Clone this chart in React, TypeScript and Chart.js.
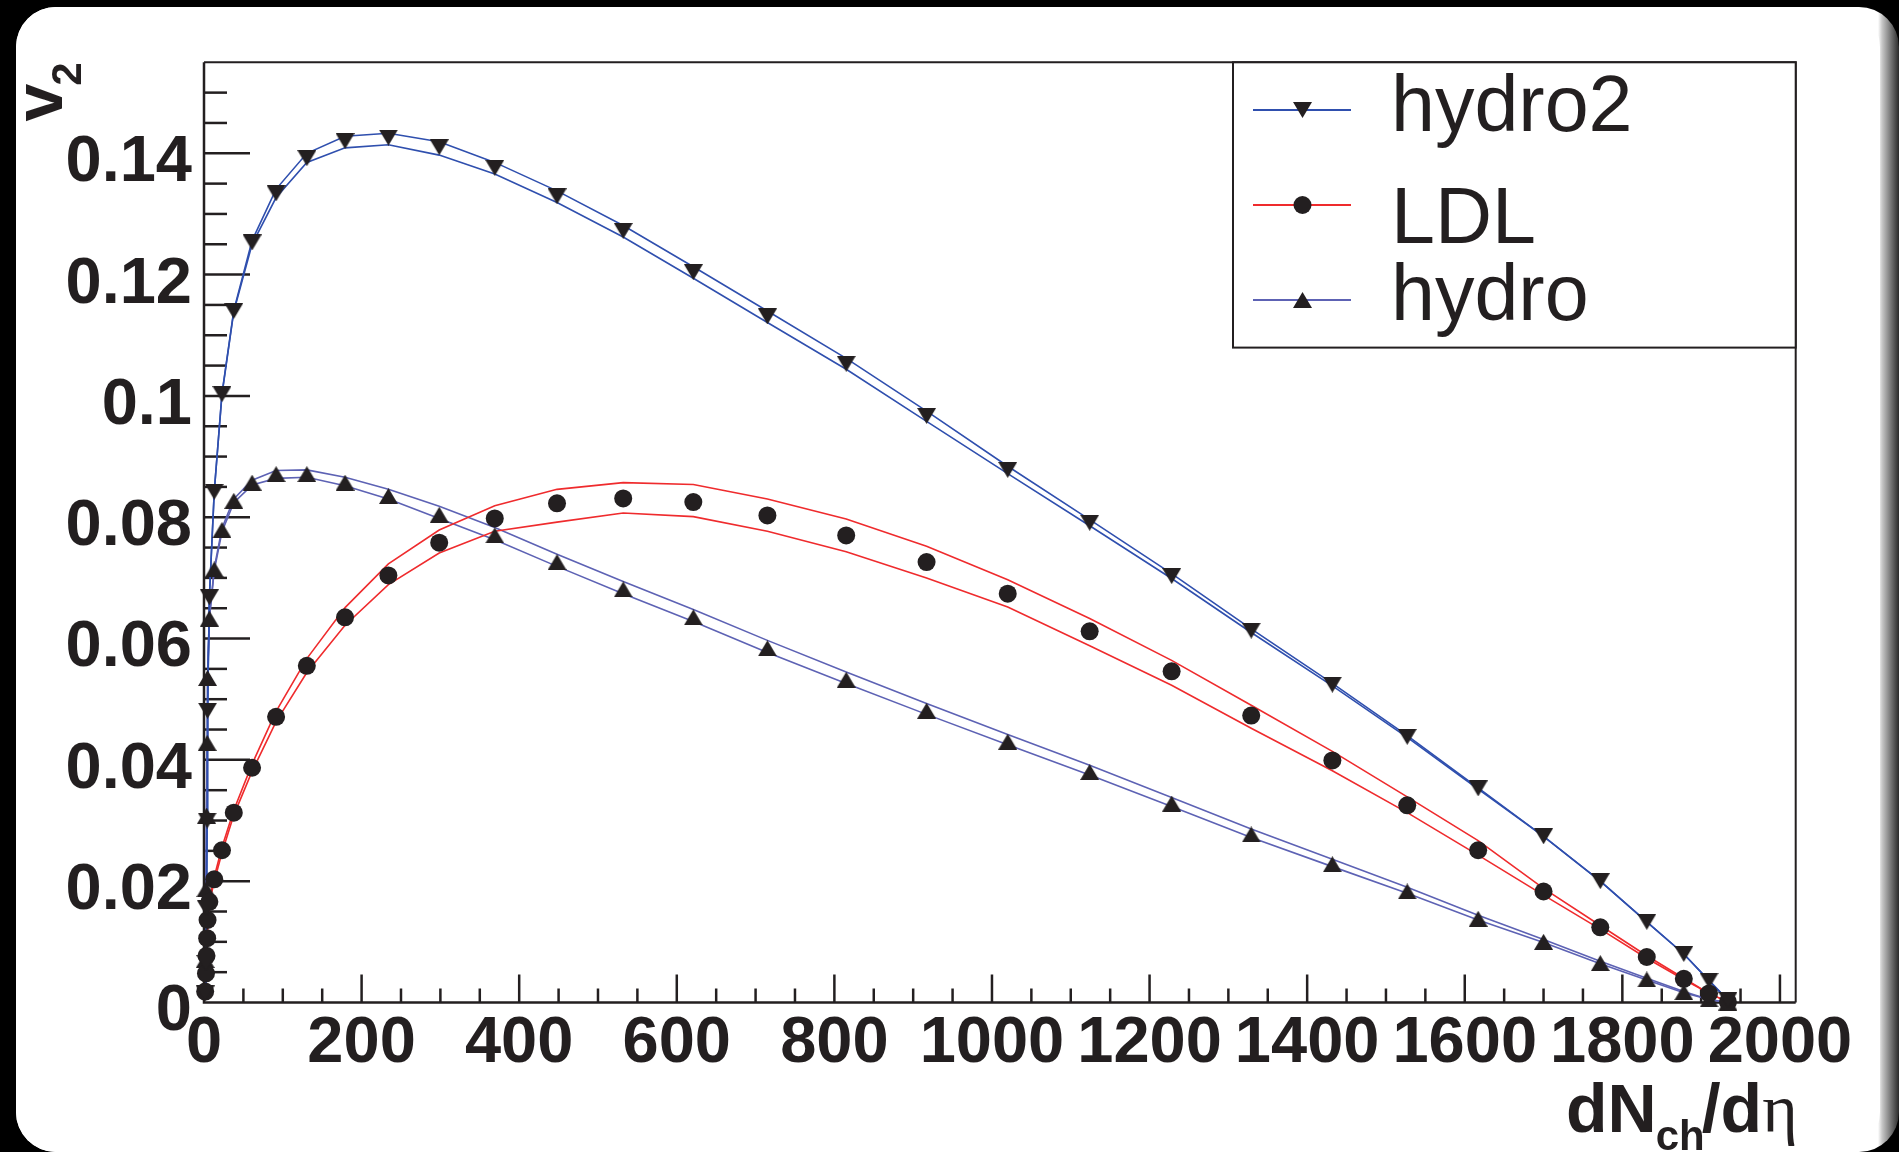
import React, { useEffect, useRef } from 'react';
import { Chart, registerables } from 'chart.js';

Chart.register(...registerables);

// dN_ch/deta grid shared by the three calculations
const dNdEta = [1.5, 2.5, 3.2, 4, 4.5, 6.8, 13, 22.8, 37.8, 61, 91.5, 130.5, 179, 234, 298.5, 369, 448, 532, 621, 715, 815, 917, 1020, 1124, 1228, 1329, 1432, 1527, 1617, 1700, 1772, 1831, 1878, 1910, 1934];

const hydro2Points = [0.0015, 0.0065, 0.0155, 0.0300, 0.0481, 0.0668, 0.0842, 0.1003, 0.1140, 0.1253, 0.1334, 0.1392, 0.1420, 0.1426, 0.1410, 0.1376, 0.1329, 0.1272, 0.1204, 0.1131, 0.1053, 0.0967, 0.0878, 0.0791, 0.0703, 0.0613, 0.0524, 0.0438, 0.0353, 0.0274, 0.0200, 0.0133, 0.0080, 0.0036, 0.0004];
const hydro2Upper = [0.0015, 0.0065, 0.0155, 0.0300, 0.0481, 0.0668, 0.0842, 0.1004, 0.1141, 0.1256, 0.1341, 0.1400, 0.1428, 0.1433, 0.1419, 0.1385, 0.1338, 0.1281, 0.1213, 0.1140, 0.1062, 0.0975, 0.0884, 0.0796, 0.0707, 0.0616, 0.0526, 0.0440, 0.0354, 0.0274, 0.0200, 0.0133, 0.0080, 0.0036, 0.0004];
const hydro2Lower = [0.0015, 0.0065, 0.0155, 0.0300, 0.0481, 0.0668, 0.0842, 0.1002, 0.1139, 0.1250, 0.1327, 0.1385, 0.1409, 0.1414, 0.1397, 0.1366, 0.1319, 0.1262, 0.1194, 0.1121, 0.1044, 0.0958, 0.0872, 0.0786, 0.0699, 0.0610, 0.0522, 0.0437, 0.0352, 0.0274, 0.0200, 0.0133, 0.0080, 0.0036, 0.0004];

const ldlPoints = [0.0018, 0.0048, 0.0077, 0.0106, 0.0136, 0.0166, 0.0203, 0.0251, 0.0313, 0.0387, 0.0471, 0.0555, 0.0635, 0.0704, 0.0758, 0.0798, 0.0823, 0.0831, 0.0825, 0.0803, 0.0770, 0.0726, 0.0674, 0.0612, 0.0546, 0.0473, 0.0399, 0.0325, 0.0251, 0.0183, 0.0124, 0.0075, 0.0039, 0.0015, 0.0001];
const ldlUpper = [0.0019, 0.0049, 0.0079, 0.0108, 0.0138, 0.0168, 0.0207, 0.0256, 0.0317, 0.0393, 0.0480, 0.0567, 0.0651, 0.0723, 0.0779, 0.0819, 0.0846, 0.0857, 0.0854, 0.0830, 0.0797, 0.0752, 0.0697, 0.0633, 0.0564, 0.0490, 0.0414, 0.0339, 0.0267, 0.0188, 0.0127, 0.0077, 0.0040, 0.0015, 0.0001];
const ldlLower = [0.0017, 0.0047, 0.0075, 0.0104, 0.0134, 0.0164, 0.0200, 0.0247, 0.0309, 0.0381, 0.0463, 0.0544, 0.0622, 0.0689, 0.0741, 0.0777, 0.0792, 0.0807, 0.0801, 0.0777, 0.0743, 0.0700, 0.0652, 0.0588, 0.0523, 0.0452, 0.0382, 0.0313, 0.0243, 0.0177, 0.0121, 0.0073, 0.0038, 0.0015, 0.0001];

const hydroPoints = [0.0070, 0.0187, 0.0308, 0.0428, 0.0535, 0.0633, 0.0714, 0.0779, 0.0827, 0.0857, 0.0871, 0.0871, 0.0857, 0.0835, 0.0804, 0.0770, 0.0726, 0.0681, 0.0635, 0.0584, 0.0532, 0.0481, 0.0430, 0.0380, 0.0328, 0.0277, 0.0228, 0.0183, 0.0138, 0.0100, 0.0065, 0.0038, 0.0017, 0.0005, 0.0000];
const hydroUpper = [0.0070, 0.0187, 0.0308, 0.0428, 0.0535, 0.0633, 0.0716, 0.0782, 0.0830, 0.0861, 0.0877, 0.0878, 0.0866, 0.0846, 0.0818, 0.0783, 0.0739, 0.0694, 0.0648, 0.0597, 0.0545, 0.0493, 0.0442, 0.0391, 0.0338, 0.0286, 0.0236, 0.0190, 0.0144, 0.0104, 0.0068, 0.0040, 0.0018, 0.0005, 0.0000];
const hydroLower = [0.0070, 0.0187, 0.0308, 0.0428, 0.0535, 0.0633, 0.0712, 0.0776, 0.0824, 0.0853, 0.0864, 0.0866, 0.0852, 0.0830, 0.0798, 0.0763, 0.0719, 0.0674, 0.0628, 0.0577, 0.0526, 0.0475, 0.0425, 0.0375, 0.0323, 0.0272, 0.0224, 0.0180, 0.0136, 0.0099, 0.0064, 0.0037, 0.0016, 0.0005, 0.0000];

const seriesNames = ['hydro2', 'LDL', 'hydro'];
const seriesColors = ['#2f4fae', '#ef2b2d', '#5d62b4'];

// axis ranges and tick labels
const xMin = 0;
const xMax = 2020;
const xTickValues = [0, 200, 400, 600, 800, 1000, 1200, 1400, 1600, 1800, 2000];
const xMinorStep = 50;
const yMin = 0;
const yMax = 0.155;
const yTickValues = [0, 0.02, 0.04, 0.06, 0.08, 0.1, 0.12, 0.14];
const yTickLabels = ['0', '0.02', '0.04', '0.06', '0.08', '0.1', '0.12', '0.14'];
const yMinorStep = 0.005;

const INK = '#231f20';
const SANS = "'Liberation Sans', Arial, Helvetica, sans-serif";

function pts(values: number[]) {
  return dNdEta.map((x, i) => ({ x, y: values[i] }));
}

function triCanvas(down: boolean, w = 19, h = 16) {
  const c = document.createElement('canvas');
  c.width = w;
  c.height = h;
  const g = c.getContext('2d')!;
  g.fillStyle = INK;
  g.beginPath();
  if (down) {
    g.moveTo(0, 0);
    g.lineTo(w, 0);
    g.lineTo(w / 2, h);
  } else {
    g.moveTo(w / 2, 0);
    g.lineTo(w, h);
    g.lineTo(0, h);
  }
  g.closePath();
  g.fill();
  return c;
}

export default function App() {
  const ref = useRef<HTMLCanvasElement | null>(null);

  useEffect(() => {
    document.body.style.margin = '0';
    document.body.style.background = '#000';
    const canvas = ref.current;
    if (!canvas) return;

    const triDown = triCanvas(true);
    const triUp = triCanvas(false);

    const framePlugin = {
      id: 'rootFrame',
      beforeDatasetsDraw(chart: any) {
        const { ctx, chartArea } = chart;
        const xs = chart.scales.x;
        const ys = chart.scales.y;
        const { left, right, top, bottom } = chartArea;
        ctx.save();
        ctx.strokeStyle = INK;
        ctx.lineCap = 'butt';
        ctx.lineWidth = 2.5;
        for (let k = 1; ; k++) {
          const v = yMin + k * yMinorStep;
          if (v > yMax - 1e-9) break;
          const isMajor = yTickValues.some((t) => Math.abs(t - v) < 1e-9);
          const py = ys.getPixelForValue(v);
          ctx.beginPath();
          ctx.moveTo(left, py);
          ctx.lineTo(left + (isMajor ? 46 : 23), py);
          ctx.stroke();
        }
        for (let k = 1; ; k++) {
          const v = xMin + k * xMinorStep;
          if (v > xMax) break;
          const isMajor = xTickValues.includes(v);
          const px = xs.getPixelForValue(v);
          ctx.beginPath();
          ctx.moveTo(px, bottom);
          ctx.lineTo(px, bottom - (isMajor ? 28 : 14));
          ctx.stroke();
        }
        ctx.lineWidth = 2;
        ctx.beginPath();
        ctx.moveTo(left, top);
        ctx.lineTo(right, top);
        ctx.lineTo(right, bottom);
        ctx.stroke();
        ctx.lineWidth = 2.5;
        ctx.beginPath();
        ctx.moveTo(left, top);
        ctx.lineTo(left, bottom);
        ctx.lineTo(right, bottom);
        ctx.stroke();
        ctx.restore();
      },
      afterDatasetsDraw(chart: any) {
        const { ctx, chartArea } = chart;
        const { top, right } = chartArea;
        ctx.save();
        // ---- legend ----
        const lx = 1233, ly = top, lw = right - 1233, lh = 285.3;
        ctx.fillStyle = '#ffffff';
        ctx.fillRect(lx, ly, lw, lh);
        ctx.strokeStyle = INK;
        ctx.lineWidth = 2;
        ctx.strokeRect(lx, ly, lw, lh);
        const lineYs = [110, 205, 300];
        const baseYs = [131.4, 242.5, 320];
        const styles: any[] = [triDown, 'circle', triUp];
        ctx.font = `79px ${SANS}`;
        ctx.textBaseline = 'alphabetic';
        ctx.textAlign = 'left';
        for (let i = 0; i < 3; i++) {
          ctx.strokeStyle = seriesColors[i];
          ctx.lineWidth = 2;
          ctx.beginPath();
          ctx.moveTo(1253, lineYs[i]);
          ctx.lineTo(1351, lineYs[i]);
          ctx.stroke();
          const st = styles[i];
          if (st === 'circle') {
            ctx.fillStyle = INK;
            ctx.beginPath();
            ctx.arc(1302.5, lineYs[i], 9, 0, Math.PI * 2);
            ctx.fill();
          } else {
            ctx.drawImage(st, 1302.5 - st.width / 2, lineYs[i] - st.height / 2);
          }
          ctx.fillStyle = INK;
          ctx.fillText(seriesNames[i], 1391, baseYs[i]);
        }

        // ---- y title: v_2 (rotated, right-aligned to top of frame) ----
        ctx.save();
        ctx.translate(62, top);
        ctx.rotate(-Math.PI / 2);
        ctx.fillStyle = INK;
        ctx.textAlign = 'left';
        ctx.textBaseline = 'alphabetic';
        ctx.font = `bold 42px ${SANS}`;
        const w2 = ctx.measureText('2').width;
        ctx.fillText('2', -w2, 19);
        ctx.font = `bold 68px ${SANS}`;
        const wv = ctx.measureText('v').width;
        ctx.fillText('v', -w2 - wv + 2, 0);
        ctx.restore();

        // ---- x title: dN_ch/d eta (right-aligned to frame right) ----
        const base = 1131.7;
        const parts = [
          { t: 'dN', f: `bold 68px ${SANS}`, dy: 0, kern: 0 },
          { t: 'ch', f: `bold 42px ${SANS}`, dy: 18, kern: -1 },
          { t: '/d', f: `bold 68px ${SANS}`, dy: 0, kern: -3 },
          { t: '\u03b7', f: `68px 'Liberation Serif', 'DejaVu Serif', serif`, dy: 0, kern: 0 },
        ];
        let total = 0;
        const widths: number[] = [];
        for (const p of parts) {
          ctx.font = p.f;
          const w = ctx.measureText(p.t).width;
          widths.push(w);
          total += w + p.kern;
        }
        let cx = right - total + 2;
        ctx.fillStyle = INK;
        parts.forEach((p, i) => {
          cx += p.kern;
          ctx.font = p.f;
          ctx.fillText(p.t, cx, base + p.dy);
          cx += widths[i];
        });
        ctx.restore();
      },
    };

    const lineDs = (values: number[], color: string) => ({
      data: pts(values),
      showLine: true,
      borderColor: color,
      borderWidth: 1.6,
      pointRadius: 0,
      pointHoverRadius: 0,
      fill: false,
      tension: 0,
      clip: false as any,
      order: 1,
    });

    const chart = new Chart(canvas, {
      type: 'scatter',
      data: {
        datasets: [
          {
            label: seriesNames[0],
            data: pts(hydro2Points),
            showLine: false,
            pointStyle: triDown as any,
            pointRadius: 9,
            pointHoverRadius: 9,
            clip: false as any,
            order: 0,
          },
          {
            label: seriesNames[1],
            data: pts(ldlPoints),
            showLine: false,
            pointStyle: 'circle',
            pointRadius: 9,
            pointHoverRadius: 9,
            backgroundColor: INK,
            borderColor: INK,
            pointBorderWidth: 0,
            clip: false as any,
            order: 0,
          },
          {
            label: seriesNames[2],
            data: pts(hydroPoints),
            showLine: false,
            pointStyle: triUp as any,
            pointRadius: 9,
            pointHoverRadius: 9,
            clip: false as any,
            order: 0,
          },
          lineDs(hydro2Upper, seriesColors[0]),
          lineDs(hydro2Lower, seriesColors[0]),
          lineDs(ldlUpper, seriesColors[1]),
          lineDs(ldlLower, seriesColors[1]),
          lineDs(hydroUpper, seriesColors[2]),
          lineDs(hydroLower, seriesColors[2]),
        ] as any,
      },
      options: {
        responsive: false,
        animation: false,
        devicePixelRatio: 1,
        events: [],
        layout: { padding: { left: 0, top: 62.3, right: 103.3, bottom: 69.5 } },
        plugins: { legend: { display: false }, tooltip: { enabled: false } },
        scales: {
          x: {
            type: 'linear',
            min: xMin,
            max: xMax,
            border: { display: false },
            grid: { display: false, drawTicks: false },
            afterBuildTicks: (s: any) => {
              s.ticks = xTickValues.map((v) => ({ value: v }));
            },
            ticks: {
              autoSkip: false,
              maxRotation: 0,
              minRotation: 0,
              padding: 3,
              color: INK,
              font: { family: SANS, size: 65, weight: 'bold' },
              callback: (v: any) => String(v),
            },
            afterFit: (s: any) => {
              s.height = 80;
            },
          },
          y: {
            type: 'linear',
            min: yMin,
            max: yMax,
            border: { display: false },
            grid: { display: false, drawTicks: false },
            afterBuildTicks: (s: any) => {
              s.ticks = yTickValues.map((v) => ({ value: v }));
            },
            ticks: {
              autoSkip: false,
              padding: 12,
              labelOffset: 10,
              color: INK,
              font: { family: SANS, size: 65, weight: 'bold' },
              callback: (v: any, i: number) => yTickLabels[i] ?? String(v),
            },
            afterFit: (s: any) => {
              s.width = 204;
            },
          },
        },
      } as any,
      plugins: [framePlugin],
    });

    return () => chart.destroy();
  }, []);

  return (
    <div
      style={{
        position: 'fixed',
        left: 0,
        top: 0,
        width: 1899,
        height: 1152,
        background: '#000',
        overflow: 'hidden',
      }}
    >
      <div
        style={{
          position: 'absolute',
          left: 16,
          top: 7,
          width: 1883,
          height: 1145,
          borderRadius: 40,
          background:
            'linear-gradient(90deg, #ffffff 0px, #ffffff 1862px, #c8c8c8 1866px, #2a2a2a 1883px)',
        }}
      />
      <div
        style={{
          position: 'absolute',
          left: 16,
          top: 7,
          width: 1864,
          height: 1145,
          borderRadius: 40,
          background: '#ffffff',
        }}
      />
      <canvas
        ref={ref}
        width={1899}
        height={1152}
        style={{ position: 'absolute', left: 0, top: 0, width: 1899, height: 1152 }}
      />
    </div>
  );
}
